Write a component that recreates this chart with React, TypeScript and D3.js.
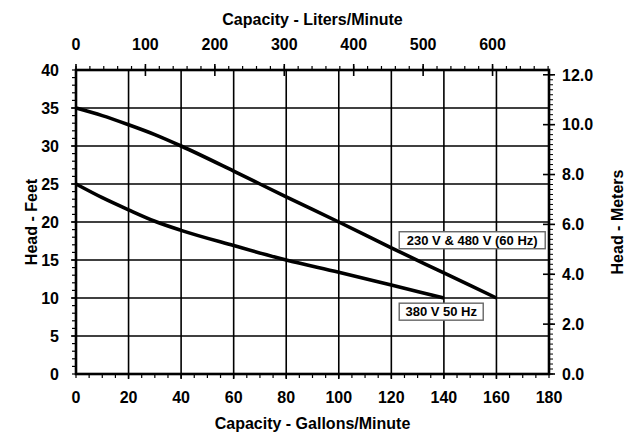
import React from 'react';
import * as d3 from 'd3';

// pump curves (gallons/minute -> head in feet)
const gpm60 = [0, 10, 20, 30, 40, 60, 80, 100, 120, 140, 160];
const head60 = [35, 34, 32.8, 31.5, 30, 26.7, 23.3, 20, 16.6, 13.3, 10];
const gpm50 = [0, 10, 20, 30, 40, 60, 80, 100, 120, 140];
const head50 = [25, 23.2, 21.6, 20.1, 18.9, 16.9, 15, 13.4, 11.7, 10];

const gpmTicks = [0, 20, 40, 60, 80, 100, 120, 140, 160, 180];
const feetTicks = [0, 5, 10, 15, 20, 25, 30, 35, 40];
const literTicks = [0, 100, 200, 300, 400, 500, 600];
const meterTicks = [0, 2, 4, 6, 8, 10, 12];

const LPM_PER_GPM = 3.785;
const M_PER_FT = 0.3048;

const W = 630;
const H = 434;
const left = 76;
const right = 549;
const top = 70;
const bottom = 374;

const font = 'Helvetica, "Liberation Sans", Arial, sans-serif';

const App: React.FC = () => {
  const x = d3.scaleLinear().domain([0, 180]).range([left, right]);
  const y = d3.scaleLinear().domain([0, 40]).range([bottom, top]);
  const xL = d3.scaleLinear().domain([0, 180 * LPM_PER_GPM]).range([left, right]);
  const yM = d3.scaleLinear().domain([0, 40 * M_PER_FT]).range([bottom, top]);

  const line = d3.line<[number, number]>()
    .x(d => x(d[0]))
    .y(d => y(d[1]))
    .curve(d3.curveMonotoneX);

  const s60 = gpm60.map((g, i) => [g, head60[i]] as [number, number]);
  const s50 = gpm50.map((g, i) => [g, head50[i]] as [number, number]);

  const minorGpm = d3.range(0, 181, 5);
  const minorFt = d3.range(0, 41, 1);
  const minorL = d3.range(0, 180 * LPM_PER_GPM, 20);
  const minorM = d3.range(0, 12.2, 0.2);

  const labels = [
    { text: '230 V & 480 V (60 Hz)', g: 123, h: 17.6, w: 146 },
    { text: '380 V 50 Hz', g: 123, h: 8.2, w: 84 },
  ];

  return (
    <svg width={W} height={H} style={{ position: 'absolute', left: 0, top: 0, background: '#fff' }}
      fontFamily={font} fontWeight="bold">
      {/* grid */}
      {gpmTicks.slice(1, -1).map(t => (
        <line key={'gx' + t} x1={x(t)} x2={x(t)} y1={top} y2={bottom + 5} stroke="#000" strokeWidth={1.6} />
      ))}
      {feetTicks.slice(1, -1).map(t => (
        <line key={'gy' + t} x1={left - 5} x2={right} y1={y(t)} y2={y(t)} stroke="#000" strokeWidth={1.6} />
      ))}

      {/* minor ticks */}
      {minorGpm.map(t => (
        <line key={'mx' + t} x1={x(t)} x2={x(t)} y1={bottom} y2={bottom + 4} stroke="#000" strokeWidth={1.2} />
      ))}
      {minorFt.map(t => (
        <line key={'my' + t} x1={left - 4} x2={left} y1={y(t)} y2={y(t)} stroke="#000" strokeWidth={1.2} />
      ))}
      {minorL.map(t => (
        <line key={'ml' + t} x1={xL(t)} x2={xL(t)} y1={top - 4} y2={top} stroke="#000" strokeWidth={1.2} />
      ))}
      {literTicks.map(t => (
        <line key={'Ml' + t} x1={xL(t)} x2={xL(t)} y1={top - 6} y2={top + 6} stroke="#000" strokeWidth={1.6} />
      ))}
      {minorM.map(t => (
        <line key={'mm' + t} x1={right} x2={right + 4} y1={yM(t)} y2={yM(t)} stroke="#000" strokeWidth={1} />
      ))}
      {meterTicks.map(t => (
        <line key={'Mm' + t} x1={right - 6} x2={right + 6} y1={yM(t)} y2={yM(t)} stroke="#000" strokeWidth={1.6} />
      ))}

      {/* frame */}
      <rect x={left} y={top} width={right - left} height={bottom - top} fill="none" stroke="#000" strokeWidth={2.6} />

      {/* curves */}
      <path d={line(s60) || ''} fill="none" stroke="#000" strokeWidth={3.6} strokeLinejoin="round" />
      <path d={line(s50) || ''} fill="none" stroke="#000" strokeWidth={3.6} strokeLinejoin="round" />

      {/* curve labels */}
      {labels.map(l => (
        <g key={l.text}>
          <rect x={x(l.g)} y={y(l.h) - 8.5} width={l.w} height={17} fill="#fff" stroke="#666" strokeWidth={1.4} />
          <text x={x(l.g) + l.w / 2} y={y(l.h)} dy="0.36em" textAnchor="middle" fontSize={13}>{l.text}</text>
        </g>
      ))}

      {/* tick labels */}
      {gpmTicks.map(t => (
        <text key={'lx' + t} x={x(t)} y={397} dy="0.36em" textAnchor="middle" fontSize={16}>{t}</text>
      ))}
      {feetTicks.map(t => (
        <text key={'ly' + t} x={59} y={y(t)} dy="0.36em" textAnchor="end" fontSize={16}>{t}</text>
      ))}
      {literTicks.map(t => (
        <text key={'lt' + t} x={xL(t)} y={44} dy="0.36em" textAnchor="middle" fontSize={16}>{t}</text>
      ))}
      {meterTicks.map(t => (
        <text key={'lm' + t} x={562} y={yM(t)} dy="0.36em" textAnchor="start" fontSize={16}>{t.toFixed(1)}</text>
      ))}

      {/* axis titles */}
      <text x={(left + right) / 2} y={19} dy="0.36em" textAnchor="middle" fontSize={16}>Capacity - Liters/Minute</text>
      <text x={(left + right) / 2} y={423} dy="0.36em" textAnchor="middle" fontSize={16}>Capacity - Gallons/Minute</text>
      <text transform={`translate(31,${(top + bottom) / 2}) rotate(-90)`} dy="0.36em" textAnchor="middle" fontSize={16}>Head - Feet</text>
      <text transform={`translate(617,${(top + bottom) / 2}) rotate(-90)`} dy="0.36em" textAnchor="middle" fontSize={16}>Head - Meters</text>
    </svg>
  );
};

export default App;
